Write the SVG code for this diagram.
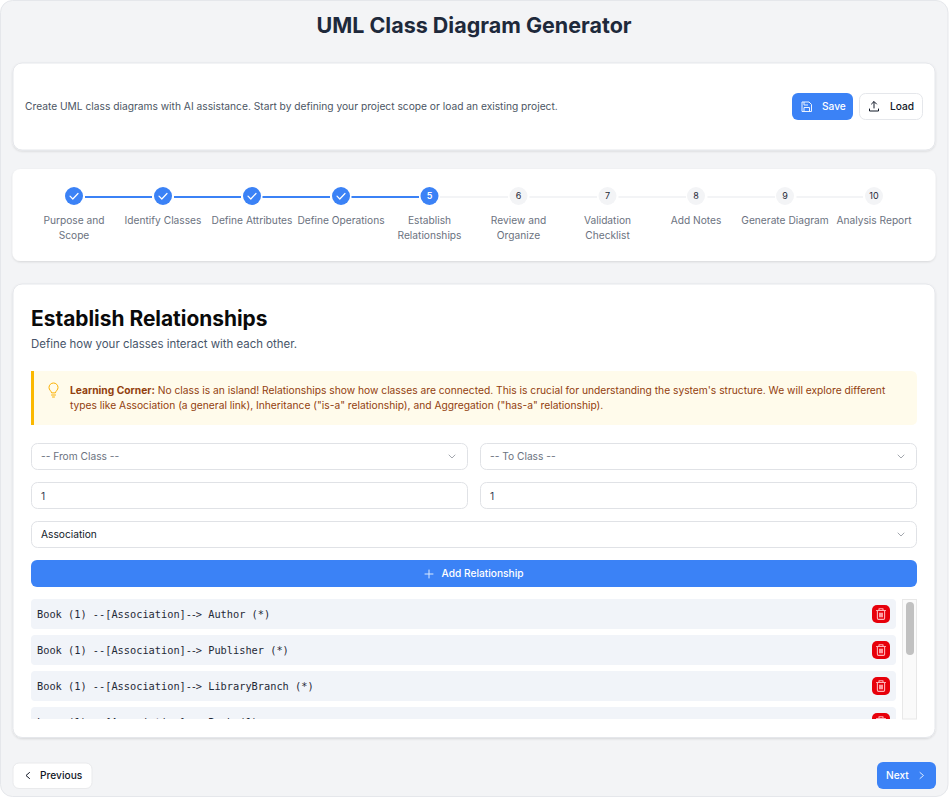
<svg xmlns="http://www.w3.org/2000/svg" width="949" height="797" viewBox="0 0 949 797">
<style>
text{font-family:Inter,"Liberation Sans",sans-serif}
.card{fill:#fff;stroke:#e5e7eb;stroke-width:1}
.step{font-size:10.2px;fill:#6b7280;text-anchor:middle}
.field{fill:#fff;stroke:#e0e2e6;stroke-width:1}
.ft{font-size:10.2px}
.btn{font-size:10.2px;font-weight:500}
.done{fill:#3b82f6}
.num{font-size:9px;text-anchor:middle}
.chk{fill:none;stroke:#fff;stroke-width:1.2;stroke-linecap:round;stroke-linejoin:round}
.chev{fill:none;stroke:#a3a7ae;stroke-width:1;stroke-linecap:round;stroke-linejoin:round}
.row{fill:#f1f4f9}
.mono{font-family:"DejaVu Sans Mono","Liberation Mono",monospace;font-size:10.3px;fill:#1f2937}
.tight{letter-spacing:-1.2px}
.del{fill:#e7000b}
.tr{fill:none;stroke:#ffb3b8;stroke-width:1.100;stroke-linejoin:round;stroke-linecap:round}
.ln{stroke-width:2}
</style>
<defs>
<filter id="sh" x="-5%" y="-10%" width="110%" height="125%"><feDropShadow dx="0" dy="1" stdDeviation="1" flood-color="#000" flood-opacity=".12"/></filter>
<clipPath id="listclip"><rect x="20" y="590" width="910" height="129"/></clipPath>
<g id="trash"><rect x="-9" y="-9" width="18" height="18" rx="5" class="del"/><path class="tr" d="M-4.500-3.500H4.500M-2-3.500V-5.200H2V-3.500M-3.600-3.500V4.300Q-3.600 5.400-2.500 5.400H2.500Q3.600 5.400 3.600 4.300V-3.500"/><rect x="-2" y="-1.300" width="4" height="4.600" fill="#ff9aa0"/></g>
</defs>
<rect x=".5" y=".5" width="947.5" height="796" rx="12" fill="#f3f4f6" stroke="#e5e7eb"/>
<text id="title" x="474" y="33" font-size="21.5" font-weight="700" fill="#1e293b" text-anchor="middle">UML Class Diagram Generator</text>

<g id="header-card">
<rect class="card" x="13" y="63" width="922" height="87" rx="9" filter="url(#sh)"/>
<text x="25" y="110" font-size="10.23" fill="#4b5563">Create UML class diagrams with AI assistance. Start by defining your project scope or load an existing project.</text>
</g>
<g id="save-button">
<rect x="792" y="93" width="61" height="27" rx="6" fill="#3b82f6"/>
<g fill="none" stroke="#fff" stroke-width="1" stroke-linejoin="round" opacity=".9"><path d="M802 102H809L811.500 104.500V111.500H802Z"/><path d="M804 102V105H808M804 111.500V107.500H809.500V111.500"/></g>
<text class="btn" x="822" y="110" fill="#fff">Save</text>
</g>
<g id="load-button">
<rect x="859.500" y="93.500" width="63" height="26" rx="6" fill="#fff" stroke="#e5e7eb"/>
<path d="M869.500 109V111H878.500V109M874 108V102M871.500 104L874 101.500L876.500 104" fill="none" stroke="#111827" stroke-width="1" stroke-linecap="round" stroke-linejoin="round"/>
<text class="btn" x="890" y="110" fill="#111827">Load</text>
</g>

<g id="stepper-card"><rect x="12.500" y="169" width="923" height="92" rx="8" fill="#fff" filter="url(#sh)"/></g>
<g id="connectors">
<g stroke="#3b82f6" class="ln"><path d="M85 197H152M174 197H241M262.500 197H330M351.500 197H419"/></g>
<g stroke="#f3f4f6" class="ln"><path d="M440 197H508M529.500 197H597M618.500 197H686M707.500 197H775M796.500 197H863"/></g>
</g>
<g id="step-1"><circle class="done" cx="74" cy="196" r="9"/><path class="chk" d="M70 196.200L72.800 199L78 193.500"/><text class="step" x="74" y="224">Purpose and</text><text class="step" x="74" y="239">Scope</text></g>
<g id="step-2"><circle class="done" cx="163" cy="196" r="9"/><path class="chk" d="M159 196.200L161.800 199L167 193.500"/><text class="step" x="163" y="224">Identify Classes</text></g>
<g id="step-3"><circle class="done" cx="252" cy="196" r="9"/><path class="chk" d="M248 196.200L250.800 199L256 193.500"/><text class="step" x="252" y="224">Define Attributes</text></g>
<g id="step-4"><circle class="done" cx="341" cy="196" r="9"/><path class="chk" d="M337 196.200L339.800 199L345 193.500"/><text class="step" x="341" y="224">Define Operations</text></g>
<g id="step-5"><circle class="done" cx="429.500" cy="196" r="9"/><text class="num" x="429.500" y="199.300" fill="#fff" font-weight="600">5</text><text class="step" x="429.500" y="224">Establish</text><text class="step" x="429.500" y="239">Relationships</text></g>
<g id="step-6"><circle fill="#f3f4f6" cx="518.500" cy="196" r="9"/><text class="num" x="518.500" y="199.300" fill="#1f2937">6</text><text class="step" x="518.500" y="224">Review and</text><text class="step" x="518.500" y="239">Organize</text></g>
<g id="step-7"><circle fill="#f3f4f6" cx="607.500" cy="196" r="9"/><text class="num" x="607.500" y="199.300" fill="#1f2937">7</text><text class="step" x="607.500" y="224">Validation</text><text class="step" x="607.500" y="239">Checklist</text></g>
<g id="step-8"><circle fill="#f3f4f6" cx="696" cy="196" r="9"/><text class="num" x="696" y="199.300" fill="#1f2937">8</text><text class="step" x="696" y="224">Add Notes</text></g>
<g id="step-9"><circle fill="#f3f4f6" cx="785" cy="196" r="9"/><text class="num" x="785" y="199.300" fill="#1f2937">9</text><text class="step" x="785" y="224">Generate Diagram</text></g>
<g id="step-10"><circle fill="#f3f4f6" cx="874" cy="196" r="9"/><text class="num" x="874" y="199.300" fill="#1f2937">10</text><text class="step" x="874" y="224">Analysis Report</text></g>

<g id="main-card">
<rect x="13" y="284" width="922" height="453.500" rx="9" fill="#fff" stroke="#e5e7eb" filter="url(#sh)"/>
<text x="31" y="326" font-size="20.9" font-weight="700" fill="#0a0a0a">Establish Relationships</text>
<text x="31" y="348" font-size="11.45" fill="#475569">Define how your classes interact with each other.</text>
</g>
<g id="learning-corner">
<path d="M34 371H911Q917 371 917 377V419Q917 425 911 425H34Z" fill="#fffbeb"/>
<rect x="31" y="371" width="3" height="54" fill="#fbb800"/>
<g fill="none" stroke="#fbb000" stroke-width="1" stroke-linecap="round" stroke-linejoin="round"><path d="M51.500 392.500C51 390.500 49 390 49 387.500A4.500 4.500 0 0 1 58 387.500C58 390 56 390.500 55.500 392.500Z"/><path d="M51.500 395H55.500M52.500 397H54.500"/></g>
<text x="70" y="394" font-size="10.26" fill="#92400e"><tspan font-weight="700">Learning Corner:</tspan> No class is an island! Relationships show how classes are connected. This is crucial for understanding the system's structure. We will explore different</text>
<text x="70" y="409" font-size="10.26" fill="#92400e">types like Association (a general link), Inheritance ("is-a" relationship), and Aggregation ("has-a" relationship).</text>
</g>
<g id="from-class"><rect class="field" x="31.500" y="443.500" width="436" height="26" rx="6"/><text class="ft" x="41" y="460" fill="#6b7280">-- From Class --</text><path class="chev" d="M449 455L452 458L455 455"/></g>
<g id="to-class"><rect class="field" x="480.500" y="443.500" width="436" height="26" rx="6"/><text class="ft" x="490" y="460" fill="#6b7280">-- To Class --</text><path class="chev" d="M898 455L901 458L904 455"/></g>
<g id="from-mult"><rect class="field" x="31.500" y="482.500" width="436" height="26" rx="6"/><text class="ft" x="41" y="500" fill="#374151">1</text></g>
<g id="to-mult"><rect class="field" x="480.500" y="482.500" width="436" height="26" rx="6"/><text class="ft" x="490" y="500" fill="#374151">1</text></g>
<g id="type-select"><rect class="field" x="31.500" y="521.500" width="885" height="26" rx="6"/><text class="ft" x="41" y="538" fill="#111827">Association</text><path class="chev" d="M898 533L901 536L904 533"/></g>
<g id="add-relationship"><rect x="31" y="560" width="886" height="27" rx="6" fill="#3b82f6"/><path d="M425 574H433M429 570V578" stroke="#dbeafe" stroke-width="1" stroke-linecap="round"/><text class="btn" x="441.500" y="577" fill="#fff">Add Relationship</text></g>

<g id="relationship-list" clip-path="url(#listclip)">
<g id="rel-1"><rect class="row" x="31" y="599" width="865" height="30" rx="4"/><text class="mono" x="37" y="618">Book (1) --[Association]<tspan class="tight">--</tspan>&gt; Author (*)</text><use href="#trash" x="881" y="614"/></g>
<g id="rel-2"><rect class="row" x="31" y="635" width="865" height="30" rx="4"/><text class="mono" x="37" y="654">Book (1) --[Association]<tspan class="tight">--</tspan>&gt; Publisher (*)</text><use href="#trash" x="881" y="650"/></g>
<g id="rel-3"><rect class="row" x="31" y="671" width="865" height="30" rx="4"/><text class="mono" x="37" y="690">Book (1) --[Association]<tspan class="tight">--</tspan>&gt; LibraryBranch (*)</text><use href="#trash" x="881" y="686"/></g>
<g id="rel-4"><rect class="row" x="31" y="707" width="865" height="30" rx="4"/><text class="mono" x="37" y="726">Loan (1) --[Association]<tspan class="tight">--</tspan>&gt; Book (1)</text><use href="#trash" x="881" y="722"/></g>
</g>
<g id="scrollbar"><rect x="902.500" y="599.500" width="14" height="119.500" fill="#fafafa" stroke="#e8e8e8"/><rect x="906" y="602" width="8" height="53" rx="4" fill="#c1c1c1"/></g>

<g id="previous-button"><rect x="13" y="763" width="79" height="25.500" rx="6" fill="#fff" stroke="#e9eaec"/><path d="M29.500 772.500L26 775.500L29.500 778.500" fill="none" stroke="#111827" stroke-width="1" stroke-linecap="round" stroke-linejoin="round"/><text class="btn" x="40" y="779" fill="#111827">Previous</text></g>
<g id="next-button"><rect x="877" y="762" width="59" height="27" rx="6" fill="#3b82f6"/><text class="btn" x="886" y="779" fill="#fff">Next</text><path d="M920 772.500L923.500 775.500L920 778.500" fill="none" stroke="#dbeafe" stroke-width="1" stroke-linecap="round" stroke-linejoin="round"/></g>
</svg>
